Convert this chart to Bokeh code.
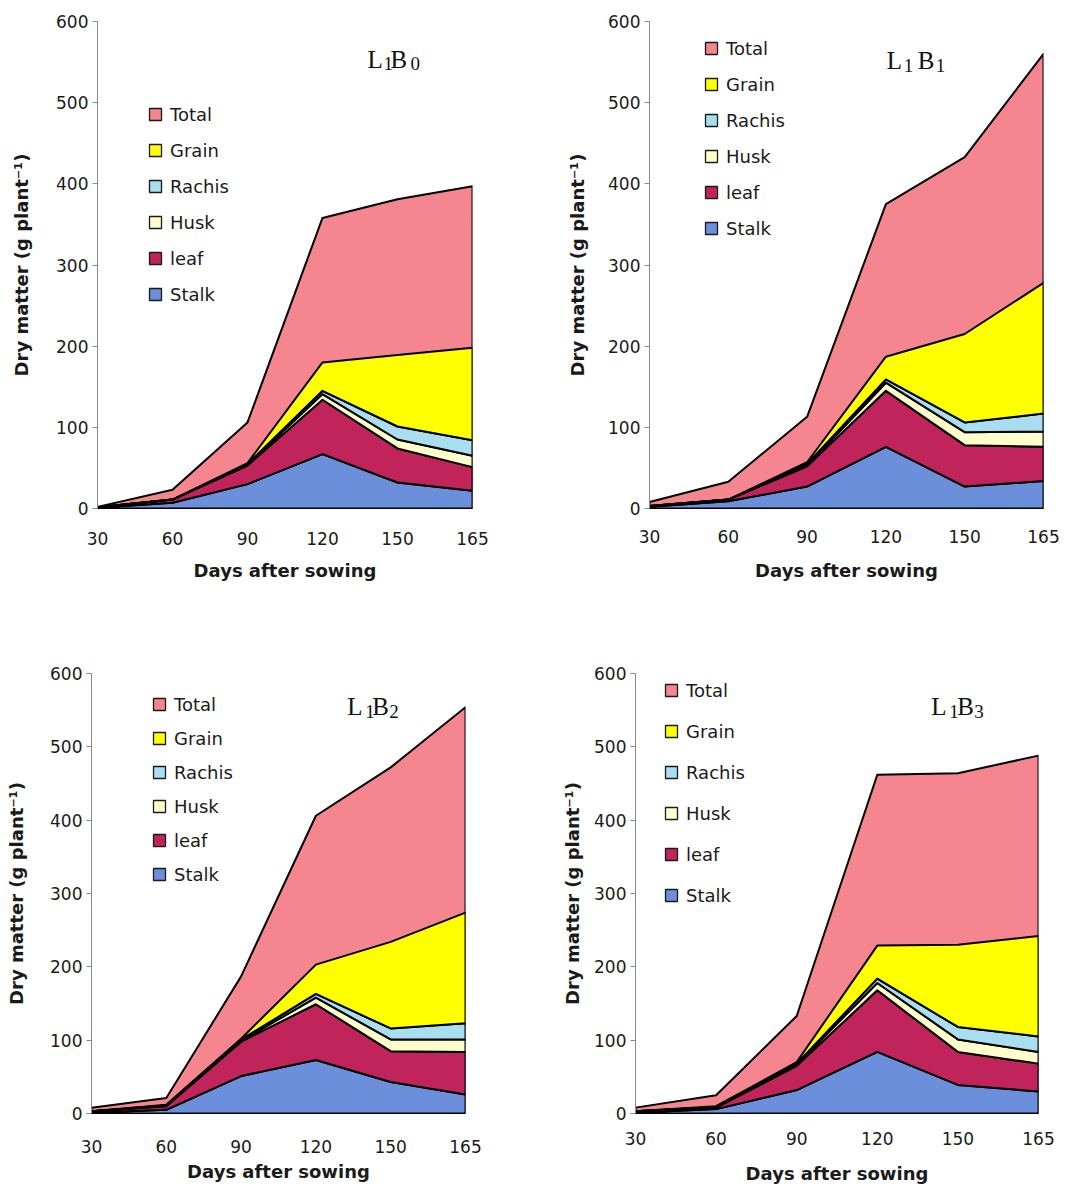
from bokeh.plotting import figure
from bokeh.models import Range1d, FixedTicker, Legend, LegendItem, Label
from bokeh.layouts import column, row
from bokeh.embed import file_html
from bokeh.resources import INLINE

# ---------------- data ----------------
days = ["30", "60", "90", "120", "150", "165"]
y_ticks = [0, 100, 200, 300, 400, 500, 600]
stack_order = ["Stalk", "leaf", "Husk", "Rachis", "Grain"]
legend_order = ["Total", "Grain", "Rachis", "Husk", "leaf", "Stalk"]

# L1B0
b0_stalk = [1, 7, 30, 67, 32, 22]
b0_leaf = [0.5, 4, 23, 67, 42, 29]
b0_husk = [0, 0, 1, 7, 11, 14]
b0_rachis = [0, 0, 1, 4, 16, 19]
b0_grain = [0, 0, 1, 35, 88, 114]
b0_total = [2, 23, 106, 358, 381, 397]

# L1B1
b1_stalk = [2, 9, 27, 76, 27, 34]
b1_leaf = [1, 2, 25, 69, 51, 42]
b1_husk = [0, 0, 1, 10, 16, 19]
b1_rachis = [0, 0, 2, 4, 12, 22]
b1_grain = [0, 0, 2, 28, 109, 161]
b1_total = [8, 33, 113, 375, 433, 560]

# L1B2
b2_stalk = [1, 5, 51, 73, 43, 26]
b2_leaf = [2, 5, 47, 76, 42, 58]
b2_husk = [0, 1, 1, 9, 16, 17]
b2_rachis = [0, 0, 2, 5, 15, 22]
b2_grain = [0, 1, 1, 40, 118, 151]
b2_total = [8, 21, 187, 406, 472, 554]

# L1B3
b3_stalk = [1, 6, 32, 84, 39, 30]
b3_leaf = [2, 2, 33, 84, 45, 38]
b3_husk = [0, 1, 2, 10, 17, 16]
b3_rachis = [0, 0, 1, 6, 17, 21]
b3_grain = [0, 1, 2, 45, 112, 137]
b3_total = [8, 25, 133, 462, 464, 488]

colors = {
    "Total": "#F5858E",
    "Grain": "#FFFF00",
    "Rachis": "#A9DDF0",
    "Husk": "#FFFFCC",
    "leaf": "#C0245A",
    "Stalk": "#6B8FDB",
}

FONT = "DejaVu Sans"
SERIF = "Liberation Serif"


def make_panel(title, comps, total, w, h, borders, y_title_standoff,
               x_lab_standoff, x_title_standoff, legend_xy, legend_spacing,
               label_xy, label_offsets):
    bl, br, bt, bb = borders
    n = len(days)
    p = figure(width=w, height=h, x_range=Range1d(0, n - 1), y_range=Range1d(0, 600),
               output_backend="svg", toolbar_location=None,
               min_border_left=bl, min_border_right=br, min_border_top=bt, min_border_bottom=bb)
    p.outline_line_color = None
    p.grid.visible = False
    p.background_fill_color = "white"
    p.border_fill_color = "white"

    xs = list(range(n))
    renderers = {}
    # Total area drawn behind, from zero
    renderers["Total"] = p.patch(xs + [n - 1, 0], list(total) + [0, 0],
                                 fill_color=colors["Total"], line_color="black",
                                 line_width=2, line_join="round")
    bottom = [0.0] * n
    for name in stack_order:
        vals = comps[name]
        top = [b + v for b, v in zip(bottom, vals)]
        renderers[name] = p.patch(xs + xs[::-1], top + bottom[::-1],
                                  fill_color=colors[name], line_color="black",
                                  line_width=2, line_join="round")
        bottom = top

    # legend via square markers (centered in item box)
    items = []
    for name in legend_order:
        r = p.scatter(x=[float("nan")], y=[float("nan")], marker="square", size=12,
                      fill_color=colors[name], line_color="#1a1a1a", line_width=1.3)
        items.append(LegendItem(label=name, renderers=[r]))
    leg = Legend(items=items, location=legend_xy, orientation="vertical",
                 glyph_width=30, glyph_height=30, label_height=30, label_standoff=0,
                 spacing=legend_spacing, padding=0, margin=0,
                 border_line_color=None, background_fill_alpha=0,
                 label_text_font=FONT, label_text_font_size="18px",
                 label_text_color="#1a1a1a")
    p.add_layout(leg)

    # axes
    xa = p.xaxis[0]
    xa.ticker = FixedTicker(ticks=xs)
    xa.major_label_overrides = {i: d for i, d in enumerate(days)}
    xa.major_tick_out = 0
    xa.major_tick_in = 0
    xa.minor_tick_out = 0
    xa.minor_tick_in = 0
    xa.axis_line_color = "black"
    xa.major_label_standoff = x_lab_standoff
    xa.major_label_text_font = FONT
    xa.major_label_text_font_size = "17px"
    xa.major_label_text_color = "#1a1a1a"
    xa.axis_label = "Days after sowing"
    xa.axis_label_text_font = FONT
    xa.axis_label_text_font_style = "bold"
    xa.axis_label_text_font_size = "18px"
    xa.axis_label_text_color = "#1a1a1a"
    xa.axis_label_standoff = x_title_standoff

    ya = p.yaxis[0]
    ya.ticker = FixedTicker(ticks=y_ticks)
    ya.major_tick_out = 5
    ya.major_tick_in = 0
    ya.minor_tick_out = 0
    ya.minor_tick_in = 0
    ya.axis_line_color = "#8a8a8a"
    ya.major_tick_line_color = "#8a8a8a"
    ya.major_label_standoff = 4
    ya.major_label_text_font = FONT
    ya.major_label_text_font_size = "17px"
    ya.major_label_text_color = "#1a1a1a"
    ya.axis_label = "Dry matter (g plant\u207b\u00b9)"
    ya.axis_label_text_font = FONT
    ya.axis_label_text_font_style = "bold"
    ya.axis_label_text_font_size = "18px"
    ya.axis_label_text_color = "#1a1a1a"
    ya.axis_label_standoff = y_title_standoff

    # panel label  L1Bn  with subscripts
    parts = [("L", 0, 0, "25px"), ("1", label_offsets[0], label_offsets[3], "19px"),
             ("B", label_offsets[1], 0, "25px"), (title, label_offsets[2], label_offsets[3], "19px")]
    for txt, dx, dy, fs in parts:
        p.add_layout(Label(x=label_xy[0], y=label_xy[1], x_offset=dx, y_offset=dy, text=txt,
                           text_font=SERIF, text_font_size=fs,
                           text_align="left", text_baseline="alphabetic",
                           text_color="#111111"))
    return p


def comps_of(stalk, leaf, husk, rachis, grain):
    return {"Stalk": stalk, "leaf": leaf, "Husk": husk, "Rachis": rachis, "Grain": grain}


p1 = make_panel("0", comps_of(b0_stalk, b0_leaf, b0_husk, b0_rachis, b0_grain), b0_total,
                537, 590, (97, 65, 21, 82), 21, 23, 12, (43, 199), 6,
                (3.6, 553), (16, 23, 43, -4))
p2 = make_panel("1", comps_of(b1_stalk, b1_leaf, b1_husk, b1_rachis, b1_grain), b1_total,
                529, 590, (112, 23, 21, 82), 17, 21, 14, (47, 265), 6,
                (3.01, 552), (17, 31, 49, -5))
p3 = make_panel("2", comps_of(b2_stalk, b2_leaf, b2_husk, b2_rachis, b2_grain), b2_total,
                537, 598, (91, 72, 83, 75), 20, 26, 5, (53, 224), 4,
                (3.42, 555), (18, 25, 42, -5))
p4 = make_panel("3", comps_of(b3_stalk, b3_leaf, b3_husk, b3_rachis, b3_grain), b3_total,
                529, 598, (98, 28, 83, 75), 8, 18, 15, (21, 203), 11,
                (3.67, 555), (18, 26, 43, -5))

layout = column(row(p1, p2), row(p3, p4))
open("out.html", "w").write(file_html(layout, INLINE))
